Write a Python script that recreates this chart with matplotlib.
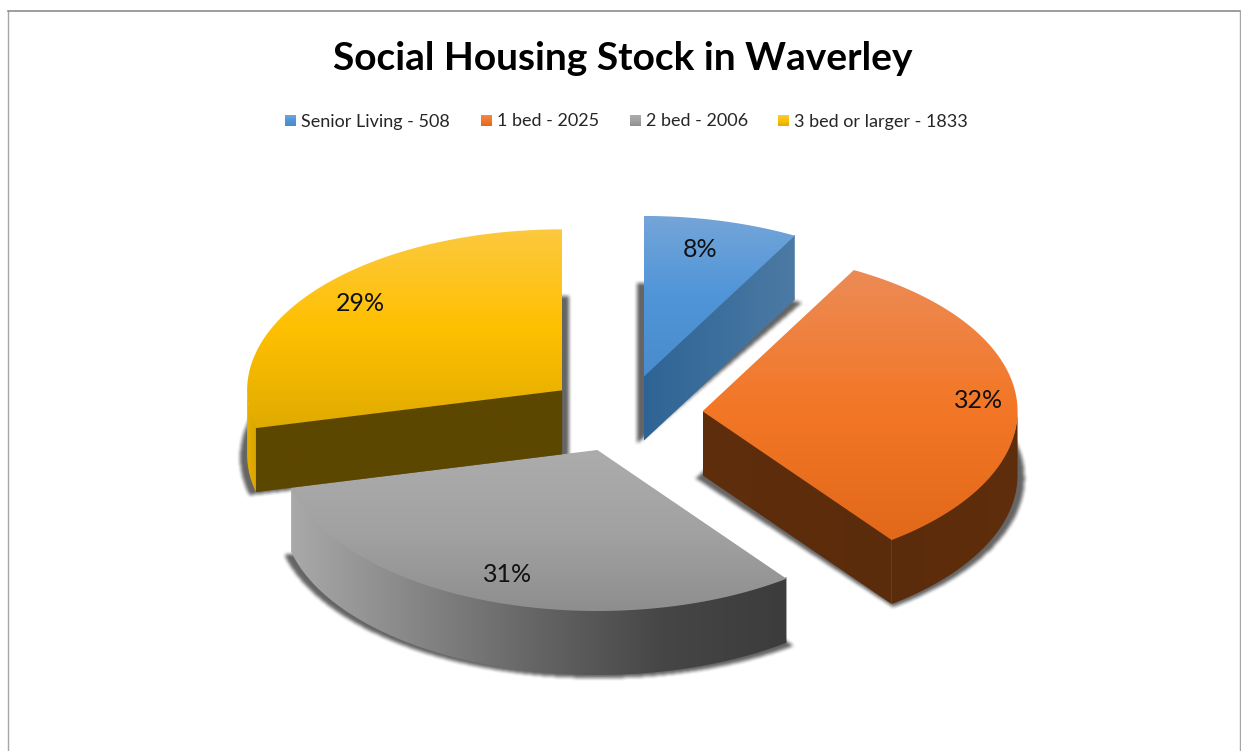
import numpy as np
import matplotlib
matplotlib.use("Agg")
import matplotlib.pyplot as plt
from matplotlib.path import Path
from matplotlib.patches import PathPatch
from matplotlib.colors import LinearSegmentedColormap

plt.rcParams['font.family'] = ['Lato', 'DejaVu Sans']

# ---- data ----
categories = ["Senior Living", "1 bed", "2 bed", "3 bed or larger"]
values = [508, 2025, 2006, 1833]
title = "Social Housing Stock in Waverley"

# ---- styles ----
top_colors = [["#74a5d9", "#4f95d8", "#4a8ccb"],
              ["#ec8b56", "#f37726", "#e2691a"],
              ["#acacac", "#a2a2a2", "#8e8e8e"],
              ["#fcc93f", "#ffc000", "#e0ab00"]]
wall_colors = [["#2e6495", "#4c7aa4"],
               ["#5f2e0c", "#5b2c0b"],
               ["#a9a9a9", "#3c3c3c"],
               ["#5c4700", "#5c4700"]]
outer_colors = [["#4c7aa4", "#4c7aa4"],
                ["#5b2c0b", "#5f2e0c"],
                ["#a9a9a9", "#868686", "#646464", "#464646", "#3c3c3c"],
                ["#e6b000", "#d8a600"]]
legend_x = [285, 481, 630, 778]
label_pos = [(700, 257), (979, 408), (508, 582), (360, 311)]

W, H = 1241, 751
CX, CY = 624, 414      # pie centre in the picture
RX, RY = 315, 161      # ellipse radii of the tilted pie
DEPTH = 64
EXPLODE = 0.25

fig = plt.figure(figsize=(W / 100, H / 100), dpi=100, facecolor="white")
ax = fig.add_axes([0, 0, 1, 1])
ax.axis("off")


def arc(apex, a0, a1, n=120):
    t = np.radians(np.linspace(a0, a1, n))
    return np.column_stack([apex[0] + RX * np.sin(t), apex[1] - RY * np.cos(t)])


def gradient(path, colors, vertical=True, bbox=None, z=2):
    """Fill a path with a linear gradient drawn as a clipped image."""
    cmap = LinearSegmentedColormap.from_list("g", colors)
    x0, y0, x1, y1 = bbox
    ramp = np.linspace(0, 1, 256)
    img = ramp[:, None] if vertical else ramp[None, :]
    im = ax.imshow(img, cmap=cmap, extent=(x0, x1, y1, y0), origin="upper",
                   aspect="auto", zorder=z, vmin=0, vmax=1, interpolation="bilinear")
    clip = PathPatch(path, transform=ax.transData, facecolor="none", edgecolor="none")
    ax.add_patch(clip)
    im.set_clip_path(clip)


def poly(pts):
    pts = np.asarray(pts)
    return Path(np.vstack([pts, pts[:1]]), closed=True)


def box_blur(a, r):
    k = np.ones(2 * r + 1) / (2 * r + 1)
    for axis in (0, 1):
        a = np.apply_along_axis(lambda v: np.convolve(v, k, mode="same"), axis, a)
    return a


# ---- slice geometry from the values ----
frac = np.array(values, dtype=float) / sum(values)
edges = np.concatenate([[0], np.cumsum(frac)]) * 360
slices = []
for i in range(len(values)):
    a0, a1 = edges[i], edges[i + 1]
    mid = np.radians((a0 + a1) / 2)
    apex = (CX + EXPLODE * RX * np.sin(mid), CY - EXPLODE * RY * 0.95 * np.cos(mid))
    slices.append((a0, a1, apex))

# ---- soft shadows ----
yy, xx = np.mgrid[0:H, 0:W]
grid = np.column_stack([xx.ravel() + 0.5, yy.ravel() + 0.5])
mask = np.zeros((H, W))
for a0, a1, apex in slices:
    pts = np.vstack([[apex], arc(apex, a0, a1)])
    xm = (pts[:, 0].min() + pts[:, 0].max()) / 2
    half = (pts[:, 0].max() - pts[:, 0].min()) / 2
    pts = pts.copy()
    pts[:, 0] = xm + (pts[:, 0] - xm) * (half + 7) / half
    pts[:, 1] += DEPTH + 3
    mask = np.maximum(mask, poly(pts).contains_points(grid).reshape(H, W).astype(float))
mask = box_blur(box_blur(mask, 2), 1)
rgba = np.zeros((H, W, 4))
rgba[..., :3] = 0.25
rgba[..., 3] = mask * 0.8
ax.imshow(rgba, extent=(0, W, H, 0), aspect="auto", zorder=1, interpolation="nearest")

# ---- slices: back to front ----
for i, (a0, a1, apex) in enumerate(slices):
    z = 2 + i * 3
    top = np.vstack([[apex], arc(apex, a0, a1)])
    # straight cut faces
    for ang, visible in ((a1, 0 < a1 < 180), (a0, 180 < a0 < 360)):
        if visible:
            e = arc(apex, ang, ang, 1)[0]
            face = [(apex[0], apex[1] - 1), (e[0], e[1] - 1),
                    (e[0], e[1] + DEPTH), (apex[0], apex[1] + DEPTH)]
            xs = sorted((apex[0], e[0]))
            gradient(poly(face), wall_colors[i], vertical=False,
                     bbox=(xs[0], min(apex[1], e[1]), xs[1], max(apex[1], e[1]) + DEPTH), z=z)
    # curved outer wall (front half only)
    lo, hi = max(a0, 90), min(a1, 270)
    if lo < hi:
        upper = arc(apex, lo, hi)
        lower = upper[::-1] + [0, DEPTH]
        wall = np.vstack([upper - [0, 1.5], lower])
        gradient(poly(wall), outer_colors[i], vertical=False,
                 bbox=(wall[:, 0].min(), wall[:, 1].min(), wall[:, 0].max(), wall[:, 1].max()), z=z)
    # top face
    gradient(poly(top), top_colors[i], vertical=True,
             bbox=(top[:, 0].min(), top[:, 1].min(), top[:, 0].max(), top[:, 1].max()), z=z + 1)
    ax.text(*label_pos[i], f"{frac[i] * 100:.0f}%", fontsize=18, color="#111111",
            ha="center", va="baseline", zorder=30)

ax.set_xlim(0, W)
ax.set_ylim(H, 0)

# ---- chart frame ----
ax.plot([8, 8], [H, 10.5], color="#a6a6a6", lw=1, zorder=0)
ax.plot([8, W - 1], [10.5, 10.5], color="#8c8c8c", lw=1.2, zorder=0)
ax.plot([W - 1, W - 1], [10.5, H], color="#a6a6a6", lw=1, zorder=0)

# ---- title and legend ----
ax.text(623, 70, title, fontsize=28, fontweight="bold", color="black",
        ha="center", va="baseline", zorder=30)
for i, (name, val) in enumerate(zip(categories, values)):
    x = legend_x[i]
    sq = Path([(x, 115), (x + 11, 115), (x + 11, 126), (x, 126), (x, 115)], closed=True)
    gradient(sq, top_colors[i], vertical=True, bbox=(x, 115, x + 11, 126), z=30)
    ax.text(x + 16, 126.5, f"{name} - {val}", fontsize=13, color="#262626",
            ha="left", va="baseline", zorder=30)

ax.set_xlim(0, W)
ax.set_ylim(H, 0)
fig.savefig("out.png", dpi=100, facecolor="white")
